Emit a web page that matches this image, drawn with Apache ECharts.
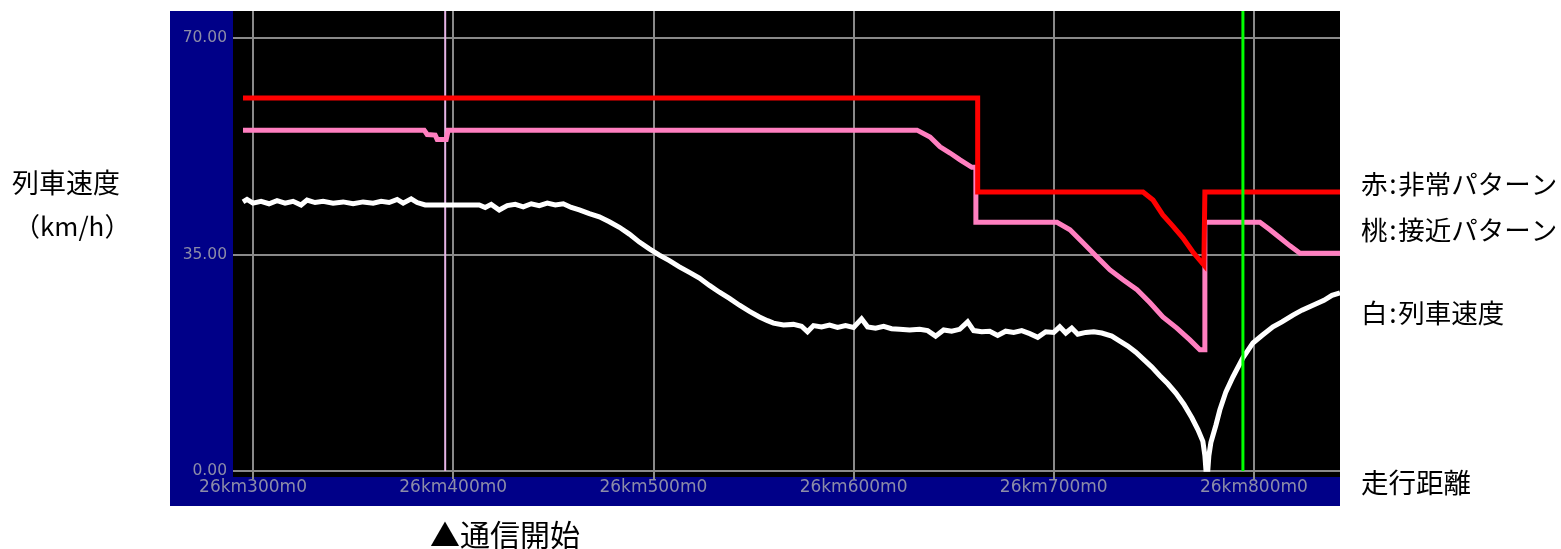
<!DOCTYPE html>
<html>
<head>
<meta charset="utf-8">
<script src="https://cdn.jsdelivr.net/npm/echarts@6/dist/echarts.min.js"></script>
<style>
html,body{margin:0;padding:0;background:#fff;}
#chart{width:1561px;height:549px;}
</style>
</head>
<body>
<div id="chart"></div>
<script>
// x: distance in metres after 26km, y: speed km/h
const xTicks = [300, 400, 500, 600, 700, 800];
const yTicks = [0, 35, 70];
const xMin = 290, xMax = 843;
const yMin = -0.97, yMax = 74.36;

const commStartKm = 396;     // 通信開始
const greenMarkerKm = 794.5; // green marker

// 赤: 非常パターン
const emergencyPattern = [
  [295,60.3],[662,60.3],[662,45.1],[744.6,45.1],[749.6,43.8],[754.5,41.4],[759.5,39.6],
  [764.5,37.7],[769.5,35.4],[775,33.3],[775.5,45.1],[843,45.1]
];

// 桃: 接近パターン
const approachPattern = [
  [295,55.1],[385.5,55.1],[387,54.4],[391,54.3],[392,53.6],[396.5,53.6],[397.5,55.1],
  [631.7,55.1],[638.2,54.0],[643.2,52.4],[648.2,51.4],[653.2,50.3],[659.1,49.1],[661.1,49.1],
  [661.1,40.2],[701.6,40.2],[708.1,39.0],[714.6,36.9],[721.6,34.6],[728.1,32.5],[734.6,30.9],
  [741.6,29.3],[748.1,27.2],[754.5,24.9],[761.5,23.1],[768,21.2],[773,19.6],[775.5,19.6],
  [775.5,40.2],[803,40.2],[808,39.0],[813,37.7],[818,36.4],[823,35.2],[843,35.2]
];

// 白: 列車速度
const trainSpeed = [
  [295,43.5],[297,43.9],[300,43.3],[304,43.6],[308,43.2],[312,43.7],[316,43.3],[320,43.6],
  [324,43.0],[327,43.8],[331,43.4],[335,43.6],[340,43.3],[345,43.5],[350,43.2],[355,43.5],
  [360,43.3],[364,43.6],[368,43.4],[372,43.9],[375,43.3],[379,44.0],[382,43.4],[386,43.0],
  [395,43.0],[405,43.0],[413,43.0],[416,42.6],[419,43.1],[423,42.2],[427,42.9],[431,43.1],
  [435,42.7],[439,43.2],[443,42.9],[447,43.3],[451,43.0],[455,43.2],[459,42.6],[463,42.2],
  [468,41.6],[473,41.1],[478,40.3],[483,39.4],[488,38.3],[493,37.0],[498,35.9],[503,34.9],
  [508,34.0],[513,33.0],[518,32.1],[523,31.2],[528,30.0],[533,28.9],[538,27.9],[543,26.8],
  [548,25.8],[553,24.9],[557,24.3],[560,23.9],[565,23.6],[570,23.7],[574,23.4],[577,22.5],
  [580,23.5],[584,23.3],[588,23.6],[592,23.2],[596,23.5],[600,23.2],[604,24.6],[607,23.3],
  [611,23.1],[615,23.4],[619,23.0],[623,22.9],[628,22.8],[633,22.9],[637,22.7],[641,21.8],
  [645,22.8],[649,22.6],[653,22.9],[657,24.1],[660,22.7],[664,22.5],[668,22.6],[672,21.9],
  [676,22.6],[680,22.4],[684,22.7],[688,22.2],[692,21.6],[696,22.5],[700,22.4],[703,23.3],
  [706,22.3],[709,23.1],[712,22.1],[716,22.4],[720,22.5],[724,22.3],[729,21.8],[733,21.0],
  [737,20.2],[741,19.2],[745,18.0],[749,16.8],[753,15.4],[757,14.1],[761,12.6],[765,10.8],
  [769,8.6],[772,6.7],[774.5,4.8],[775.5,2.5],[776,0.3],[777,0.3],[777.5,2.5],[778.5,4.6],
  [781,7.4],[783,9.9],[786,12.8],[789.5,15.2],[794.5,18.3],[799.5,20.7],[804,21.9],
  [809.5,23.3],[814,24.1],[819.5,25.2],[824,26.0],[829.5,26.8],[835,27.6],[839,28.4],[843,28.8]
];

const leftLabels = ['列車速度', '（km/h）'];
const rightLabels = ['赤\u200A:\u200A非常パターン', '桃\u200A:\u200A接近パターン', '白\u200A:\u200A列車速度', '走行距離'];
const bottomLabel = '▲通信開始';

const cjk = '"Noto Sans CJK JP", sans-serif';
const labelColor = '#8c8ca8';
const gridColor = '#8a8a8a';

const chart = echarts.init(document.getElementById('chart'), null, {renderer: 'canvas'});

function txt(text, x, y, size) {
  return {
    type: 'text', silent: true, z: 10,
    style: {text: text, x: x, y: y, fill: '#000', font: size + 'px ' + cjk, verticalAlign: 'middle'}
  };
}

chart.setOption({
  backgroundColor: '#fff',
  animation: false,
  graphic: [
    {type: 'rect', silent: true, z: -1, shape: {x: 170, y: 11, width: 1170, height: 495}, style: {fill: '#000088'}},
    txt(leftLabels[0], 12, 183, 27),
    txt(leftLabels[1], 14, 226, 26),
    txt(rightLabels[0], 1361, 184, 26.5),
    txt(rightLabels[1], 1361, 230, 26.5),
    txt(rightLabels[2], 1361, 313, 26.5),
    txt(rightLabels[3], 1361, 483, 27.5),
    txt(bottomLabel, 430, 535, 30)
  ],
  grid: {left: 233, top: 11, width: 1107, height: 466, show: true, backgroundColor: '#000', borderWidth: 0},
  xAxis: {
    type: 'value', min: xMin, max: xMax,
    axisLine: {show: false},
    axisTick: {show: true, customValues: xTicks, length: 8, lineStyle: {color: gridColor, width: 2}},
    axisLabel: {
      customValues: xTicks, formatter: v => '26km' + v + 'm0',
      color: labelColor, fontFamily: 'DejaVu Sans', fontSize: 17, margin: 2
    },
    splitLine: {show: true, lineStyle: {color: gridColor, width: 2}}
  },
  yAxis: {
    type: 'value', min: yMin, max: yMax,
    axisLine: {show: false},
    axisTick: {show: false, customValues: yTicks},
    axisLabel: {
      customValues: yTicks, formatter: v => v.toFixed(2),
      color: labelColor, fontFamily: 'DejaVu Sans', fontSize: 15.5, margin: 6,
      padding: [0, 0, 4, 0]
    },
    splitLine: {show: true, lineStyle: {color: gridColor, width: 2}}
  },
  series: [
    {
      name: '通信開始', type: 'line', showSymbol: false, silent: true, z: 2,
      data: [[commStartKm, 0], [commStartKm, yMax]],
      lineStyle: {color: '#e6b4e6', width: 2}
    },
    {
      name: '列車速度', type: 'line', showSymbol: false, silent: true, z: 3,
      data: trainSpeed,
      lineStyle: {color: '#ffffff', width: 5, join: 'miter'}
    },
    {
      name: '接近パターン', type: 'line', showSymbol: false, silent: true, z: 4,
      data: approachPattern,
      lineStyle: {color: '#ff7fc0', width: 5, join: 'miter', cap: 'butt'}
    },
    {
      name: '非常パターン', type: 'line', showSymbol: false, silent: true, z: 5,
      data: emergencyPattern,
      lineStyle: {color: '#ff0000', width: 5, join: 'miter', cap: 'butt'}
    },
    {
      name: 'marker', type: 'line', showSymbol: false, silent: true, z: 6,
      data: [[greenMarkerKm, 0], [greenMarkerKm, yMax]],
      lineStyle: {color: '#00ff00', width: 3}
    }
  ]
});
</script>
</body>
</html>
